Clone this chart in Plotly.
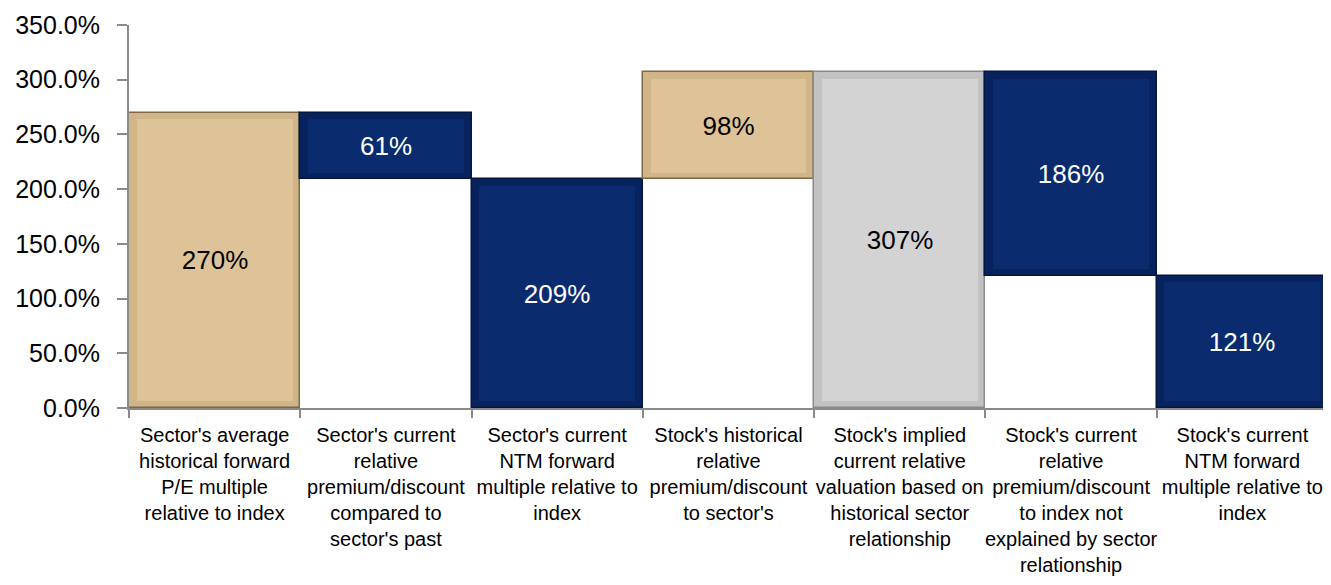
import plotly.graph_objects as go

categories = [
    "Sector's average<br>historical forward<br>P/E multiple<br>relative to index",
    "Sector's current<br>relative<br>premium/discount<br>compared to<br>sector's past",
    "Sector's current<br>NTM forward<br>multiple relative to<br>index",
    "Stock's historical<br>relative<br>premium/discount<br>to sector's",
    "Stock's implied<br>current relative<br>valuation based on<br>historical sector<br>relationship",
    "Stock's current<br>relative<br>premium/discount<br>to index not<br>explained by sector<br>relationship",
    "Stock's current<br>NTM forward<br>multiple relative to<br>index",
]
bases = [0, 209, 0, 209, 0, 121, 0]
values = [270, 61, 209, 98, 307, 186, 121]
kinds = ["tan", "navy", "navy", "tan", "gray", "navy", "navy"]

fill = {"tan": "#DEC398", "navy": "#0A2B6E", "gray": "#D3D3D3"}
frame = {"tan": "#CFB587", "navy": "#07225C", "gray": "#C2C2C2"}
edge = {"tan": "#7E6845", "navy": "#031640", "gray": "#8A8A8A"}
txtc = {"tan": "#000000", "navy": "#FFFFFF", "gray": "#000000"}

FONT = "Liberation Sans, Arial, sans-serif"
INSET = 6  # bevel thickness in axis units

fig = go.Figure()
# outer (bevel frame)
fig.add_trace(go.Bar(
    x=categories, y=values, base=bases, width=1.0,
    marker=dict(color=[frame[k] for k in kinds],
                line=dict(color=[edge[k] for k in kinds], width=1.5)),
    hoverinfo="skip",
))
# inner face with labels
fig.add_trace(go.Bar(
    x=categories,
    y=[v - 2 * INSET for v in values],
    base=[b + INSET for b in bases],
    width=0.91,
    text=[f"{v}%" for v in values],
    textposition="inside",
    insidetextanchor="middle",
    textangle=0,
    textfont=dict(family=FONT, size=26, color=[txtc[k] for k in kinds]),
    marker=dict(color=[fill[k] for k in kinds], line=dict(width=0)),
    hoverinfo="skip",
))

fig.update_layout(
    width=1323, height=577,
    margin=dict(l=121, r=3, t=17, b=177),
    paper_bgcolor="white", plot_bgcolor="white",
    barmode="overlay",
    bargap=0,
    showlegend=False,
    uniformtext=dict(mode=False),
    font=dict(family=FONT, color="black"),
)
fig.update_yaxes(
    range=[0, 350], dtick=50, tickformat=".1f", ticksuffix="%",
    showgrid=False, zeroline=False, automargin=False,
    showline=True, linecolor="#8A8A8A", linewidth=2,
    ticks="outside", ticklen=10, tickcolor="#8A8A8A", tickwidth=2,
    ticklabelstandoff=12,
    tickfont=dict(family=FONT, size=25, color="black"),
)
fig.update_xaxes(
    showgrid=False, zeroline=False, automargin=False,
    showline=True, linecolor="#8A8A8A", linewidth=2,
    ticks="outside", tickson="boundaries", ticklen=8, tickcolor="#8A8A8A", tickwidth=2,
    tickangle=0, ticklabelstandoff=8,
    tickfont=dict(family=FONT, size=20, color="black"),
)

fig.write_html("out.html")
